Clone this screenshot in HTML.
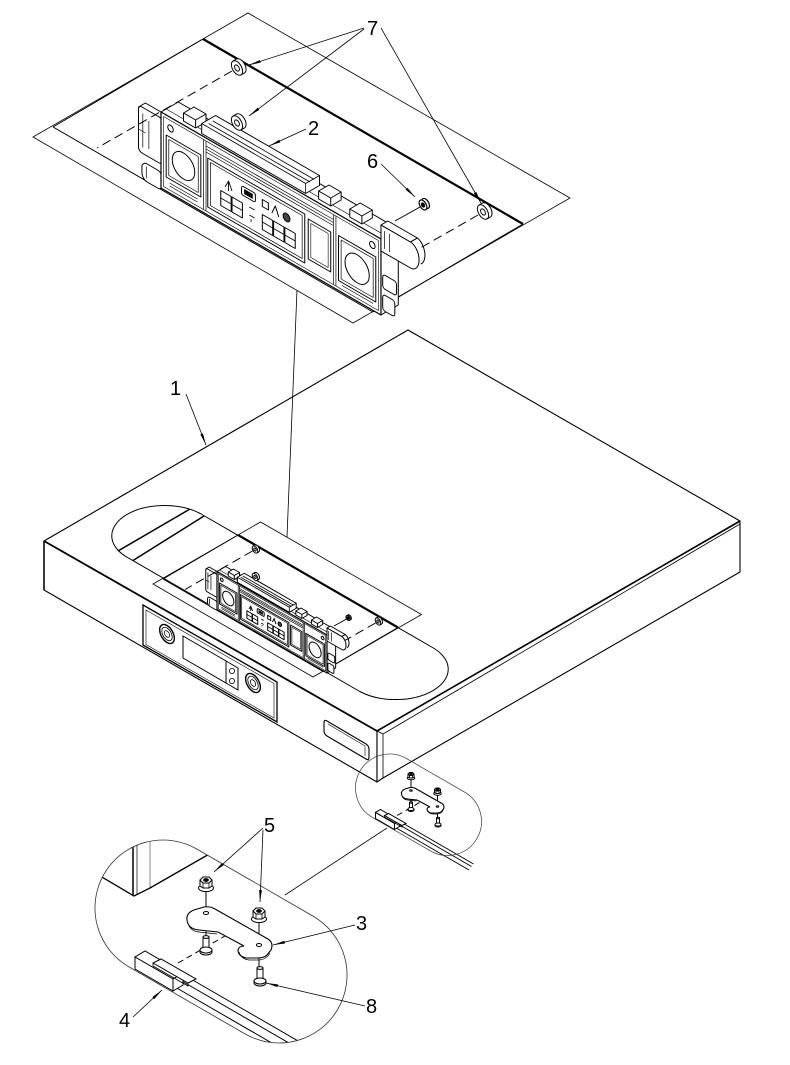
<!DOCTYPE html>
<html><head><meta charset="utf-8"><style>
html,body{margin:0;padding:0;background:#fff;}
svg{display:block}
svg *{vector-effect:non-scaling-stroke;}
text{font-family:"Liberation Sans",Arial,sans-serif;font-size:20px;fill:#000;stroke:none;}
</style></head><body>
<svg xmlns="http://www.w3.org/2000/svg" xmlns:xlink="http://www.w3.org/1999/xlink" width="790" height="1065" viewBox="0 0 790 1065">
<defs>
<marker id="ar" viewBox="0 0 12 4" refX="12" refY="2" markerWidth="12" markerHeight="4" orient="auto" markerUnits="userSpaceOnUse"><path d="M0,0.6 L12,2 L0,3.4 Z" fill="#000" stroke="none"/></marker>

<g id="n7"><g transform="matrix(0.866 0.5 0 1 0 0)" fill="#fff" stroke="#000" stroke-width="1">
<circle cx="4" cy="-4" r="6.5"/>
<polygon points="4.6,4.6 8.6,0.6 -0.6,-8.6 -4.6,-4.6" stroke="none"/>
<path d="M4.6,4.6 L8.6,0.6 M-4.6,-4.6 L-0.6,-8.6" fill="none"/>
<circle r="6.5"/><circle r="2.8"/></g></g>

<g id="n6"><g transform="matrix(0.866 0.5 0 1 0 0)" fill="#fff" stroke="#000" stroke-width="1.2">
<circle cx="3" cy="-3" r="4.5"/><circle r="4.5"/><circle r="1.8" fill="#000"/></g></g>

<g id="n5" fill="#fff" stroke="#000" stroke-width="1">
<ellipse cx="0" cy="4" rx="7.5" ry="3.6"/>
<path d="M-6,-4 L-6,2 L-3,4 L3,4 L6,2 L6,-4 Z"/>
<path d="M-6,-4 L-3,-7 L3,-7 L6,-4 L3,-1 L-3,-1 Z"/>
<path d="M-3,-1 V4 M3,-1 V4" fill="none" stroke-width="0.8"/>
<ellipse cx="0" cy="-4" rx="2.4" ry="1.4" fill="#000"/>
</g>

<g id="sc" fill="#fff" stroke="#000" stroke-width="1">
<rect x="-3" y="-13" width="6" height="12"/>
<ellipse cx="0" cy="-13" rx="3" ry="1.4"/>
<path d="M-6,0 L-6,2 A6,3 0 0 0 6,2 L6,0"/>
<ellipse cx="0" cy="0" rx="6" ry="3"/>
</g>

<g id="asm" fill="none" stroke="#000" stroke-width="1">
<polygon points="248,13 33,137 353,323 570,198" stroke-width="0.8"/>
<path d="M53,127 L203,39"/>
<path d="M203,39 L523,224" stroke-width="2.2"/>
<path d="M523,224 L373,312 M53,127 L373,312"/>
<path d="M478,215 L380,271" stroke-dasharray="9,5"/>
<path d="M420,207 L395,221"/>
<g transform="matrix(0.866 0.5 0 1 161 112)" fill="#fff" stroke="#000" stroke-width="1" stroke-linejoin="round">
 <path d="M0,0 L20,-20 L274,-20 L254,0 Z"/>
 <path d="M6,-6 L260,-6" fill="none" stroke-width="0.6"/>
 <path d="M-26,8 L-18,0 L2,0 L2,6 Z"/>
 <rect x="-26" y="6" width="28" height="46" rx="4"/>
 <path d="M-21,12 V46 M-14,16 V44 M-26,30 H-18" fill="none" stroke-width="0.7"/>
 <rect x="-22" y="60" width="24" height="18" rx="6"/>
 <path d="M-17,63 V75" fill="none" stroke-width="0.7"/>
 <path d="M26,-4 V-12 L38,-24 H52 V-16 L40,-4 Z"/><path d="M26,-12 H40 L52,-24 M40,-12 V-4" fill="none"/>
 <path d="M182,-4 V-12 L194,-24 H208 V-16 L196,-4 Z"/><path d="M182,-12 H196 L208,-24 M196,-12 V-4" fill="none"/>
 <path d="M218,-4 V-12 L230,-24 H244 V-16 L232,-4 Z"/><path d="M218,-12 H232 L244,-24 M232,-12 V-4" fill="none"/>
 <path d="M47,-2 V-12 L63,-28 H183 V-18 L167,-2 Z"/>
 <path d="M47,-12 H167 L183,-28 M167,-12 V-2 M55,-16 H172 M60,-21 H177" fill="none" stroke-width="0.8"/>
 <path d="M254,0 L274,-20 L274,56 L254,76 Z"/>
 <rect x="0" y="0" width="254" height="76" stroke-width="1.2"/>
 <rect x="3" y="3" width="248" height="70" fill="none" stroke-width="0.6"/>
 <path d="M49,3 V73 M52,3 V73 M199,3 V73 M202,3 V73 M52,8 H199 M52,11 H199 M52,14 H199" fill="none" stroke-width="0.7"/>
 <circle cx="11" cy="11" r="3.2"/>
 <circle cx="244" cy="11" r="3.2"/>
 <rect x="6" y="20" width="40" height="42"/>
 <rect x="9" y="23" width="34" height="36" fill="none" stroke-width="0.7"/>
 <circle cx="26" cy="41" r="13"/>
 <path d="M10,66 H42 M10,69 H42" fill="none" stroke-width="0.7"/>
 <rect x="54" y="19" width="112" height="49"/>
 <rect x="57" y="22" width="106" height="43" fill="none" stroke-width="0.7"/>
 <path d="M74,38 L78,30 L82,38 M78,30 V40" fill="none" stroke-width="0.9"/>
 <rect x="93" y="27" width="16" height="9" rx="2"/>
 <rect x="96" y="29" width="10" height="5" fill="#000" stroke="none"/>
 <rect x="117" y="29" width="7" height="7" fill="none"/>
 <path d="M128,37 L132,28 L136,37" fill="none"/>
 <circle cx="145" cy="33" r="4" fill="#444"/>
 <rect x="69" y="44" width="12" height="15"/><rect x="82" y="44" width="12" height="15"/>
 <path d="M69,51.5 H94" fill="none" stroke-width="0.8"/>
 <path d="M102,44 H108 M102,52 H108 M104,55 V58" fill="none" stroke-width="0.8"/>
 <rect x="117" y="44" width="12" height="15"/><rect x="130" y="44" width="12" height="15"/><rect x="143" y="44" width="12" height="15"/>
 <path d="M117,51.5 H155" fill="none" stroke-width="0.8"/>
 <rect x="170" y="22" width="26" height="40"/>
 <rect x="173" y="25" width="20" height="34" fill="none" stroke-width="0.6"/>
 <rect x="205" y="21" width="43" height="45"/>
 <rect x="208" y="24" width="37" height="39" fill="none" stroke-width="0.7"/>
 <circle cx="226.5" cy="43.5" r="14"/>
 <path d="M209,69 H245" fill="none" stroke-width="0.7"/>
 <path d="M254,-14 L262,-22 H296 L288,-14 Z"/>
 <path d="M254,-14 H288 A10,13 0 0 1 288,12 H254 Z"/>
 <path d="M288,-14 L296,-22 A10,13 0 0 1 300,2" fill="none"/>
 <path d="M258,-10 V8 M264,-10 V8" fill="none" stroke-width="0.7"/>
 <rect x="256" y="34" width="16" height="14" rx="3"/>
 <rect x="256" y="54" width="14" height="16" rx="3"/>
</g>
<path d="M232,71 L97,148" stroke-dasharray="9,5"/>
<use href="#n7" xlink:href="#n7" x="237" y="68"/>
<use href="#n7" xlink:href="#n7" x="237" y="123"/>
<use href="#n7" xlink:href="#n7" x="483" y="212"/>
<use href="#n6" xlink:href="#n6" x="423" y="205"/>
</g>

<g id="det" fill="none" stroke="#000" stroke-width="1">
<path d="M184,975 L331,1060 M180,980 L327,1065 M175,987 L322,1072"/>
<path d="M135,957 L173,979 L183,973 L145,951 Z" fill="#fff"/>
<path d="M135,957 L173,979 L173,991 L135,969 Z" fill="#fff"/>
<path d="M173,979 L183,973 L183,985 L173,991 Z" fill="#fff"/>
<path d="M153,963 L188,983 L196,979 L161,959 Z" fill="#fff"/>
<path d="M153,963 V966 L188,986 V983" fill="none" stroke-width="0.8"/>
<path d="M178,963 L232,932" stroke-dasharray="6,4"/>
<path d="M206,891 V937 M259,922 V967"/>
<path d="M187,920 Q186,913 194,910 L204,907 Q210,906 215,909 L268,939 Q274,943 271,950 L267,955 Q264,958 257,958 L246,958 Q238,956 238,950 Q239,946 244,946 L218,932 L199,930 Q188,929 187,920 Z" fill="#fff" stroke-width="1.1"/>
<path d="M188,923 Q190,931 199,932 L217,934 M239,952 Q241,959 249,960 L258,960 Q266,960 270,953" stroke-width="0.7"/>
<ellipse cx="206" cy="913" rx="2.6" ry="1.5"/>
<ellipse cx="259" cy="945" rx="2.6" ry="1.5"/>
<use href="#n5" xlink:href="#n5" x="206" y="884"/>
<use href="#n5" xlink:href="#n5" x="259" y="915"/>
<use href="#sc" xlink:href="#sc" x="206" y="950"/>
<use href="#sc" xlink:href="#sc" x="260" y="981"/>
</g>

<clipPath id="ovc"><rect x="-135" y="-68" width="270" height="136" rx="68" transform="translate(221 941.5) rotate(30)"/></clipPath>
</defs>

<!-- top exploded assembly -->
<use href="#asm" xlink:href="#asm"/>

<!-- main box -->
<g fill="#fff" stroke="#000" stroke-width="1.1" stroke-linejoin="round">
 <polygon points="408,330 44,541 377,731 740,521"/>
 <polygon points="44,541 377,731 377,782 44,590"/>
 <polygon points="377,731 740,521 740,572 383,778 377,782"/>
</g>
<g fill="none" stroke="#000">
 <path d="M44,541 L377,731" stroke-width="1.8"/>
 <path d="M377,731 L740,521" stroke-width="1.6"/>
 <path d="M383,734 L740,524 M383,734 V778 M377,731 L383,734" stroke-width="0.8"/>
 <path d="M44,541 V590" stroke-width="1.5"/>
 <!-- control panel -->
 <polygon points="143,605 277,682 277,722 143,645" stroke-width="1.3"/>
 <polygon points="146,610 274,683.5 274,718 146,644.5" stroke-width="0.6"/>
 <g transform="matrix(0.866 0.5 0 1 167 634)"><circle r="8.5" stroke-width="1.4"/><circle r="6" stroke-width="0.8"/><circle r="3" stroke-width="0.8"/></g>
 <g transform="matrix(0.866 0.5 0 1 253 683)"><circle r="8.5" stroke-width="1.4"/><circle r="6" stroke-width="0.8"/><circle r="3" stroke-width="0.8"/></g>
 <polygon points="183,636 226,661 226,683 183,658" stroke-width="1"/>
 <polygon points="226,661 238,668 238,690 226,683" stroke-width="1"/>
 <circle cx="232" cy="671" r="2.6" stroke-width="0.8"/>
 <circle cx="232" cy="681" r="2.6" stroke-width="0.8"/>
 <path d="M327,721 L366,744 Q369,746 369,749 L369,757 Q369,761 366,759 L327,736 Q324,734 324,731 L324,723 Q324,719 327,721 Z" stroke-width="1.1"/>
 <path d="M328,724 L365,746 L365,756" stroke-width="0.6"/>
 <!-- stadium cutout -->
 <path d="M200.2,513.5 A52.7,30.4 0 0,0 125.8,556.5 L359.8,691.5 A52.7,30.4 0 0,0 434.2,648.5 Z" stroke-width="1"/>
 <path d="M118,551 L190,509 M133,560.5 L204,516" stroke-width="1.5"/>
</g>

<!-- small assembly in box -->
<use href="#asm" xlink:href="#asm" transform="matrix(0.5 0 0 0.5 136.5 515.5)"/>

<!-- connector line and label 1 -->
<g fill="none" stroke="#000" stroke-width="0.8">
 <path d="M297,290 L287,537"/>
 <path d="M186,394 L206,445" marker-end="url(#ar)"/>
</g>
<text x="170" y="395">1</text>

<!-- top labels -->
<g fill="none" stroke="#000" stroke-width="0.8">
 <path d="M364,28 L249,65" marker-end="url(#ar)"/>
 <path d="M364,29 L249,116" marker-end="url(#ar)"/>
 <path d="M381,28 L481,203" marker-end="url(#ar)"/>
 <path d="M306,129 L269,146" marker-end="url(#ar)"/>
 <path d="M381,164 L415,197" marker-end="url(#ar)"/>
</g>
<text x="367" y="35">7</text>
<text x="308" y="135">2</text>
<text x="367" y="168">6</text>

<!-- small detail oval -->
<use href="#det" xlink:href="#det" transform="matrix(0.5 0 0 0.5 308 334)"/>
<rect x="-67.5" y="-34" width="135" height="68" rx="34" transform="translate(418.5 804.75) rotate(30)" fill="none" stroke="#333" stroke-width="0.7"/>
<path d="M285,895 L387,828" fill="none" stroke="#000" stroke-width="0.8"/>

<!-- large detail oval -->
<g clip-path="url(#ovc)">
 <g fill="none" stroke="#000">
  <path d="M133,820 V896" stroke-width="1.5"/>
  <path d="M137,820 V894" stroke-width="0.7"/>
  <path d="M150,820 V888" stroke-width="0.7" stroke="#555"/>
  <path d="M90,870 L134,896 L150,888 L225,845" stroke-width="1.3"/>
 </g>
 <use href="#det" xlink:href="#det"/>
</g>
<rect x="-135" y="-68" width="270" height="136" rx="68" transform="translate(221 941.5) rotate(30)" fill="none" stroke="#333" stroke-width="0.8"/>

<!-- bottom labels -->
<g fill="none" stroke="#000" stroke-width="0.8">
 <path d="M263,828 L214,872" marker-end="url(#ar)"/>
 <path d="M263,830 L260,902" marker-end="url(#ar)"/>
 <path d="M355,925 L273,945" marker-end="url(#ar)"/>
 <path d="M365,1006 L266,983" marker-end="url(#ar)"/>
 <path d="M133,1017 L162,990" marker-end="url(#ar)"/>
</g>
<text x="264" y="832">5</text>
<text x="356" y="930">3</text>
<text x="366" y="1013">8</text>
<text x="119" y="1027">4</text>
</svg>
</body></html>
